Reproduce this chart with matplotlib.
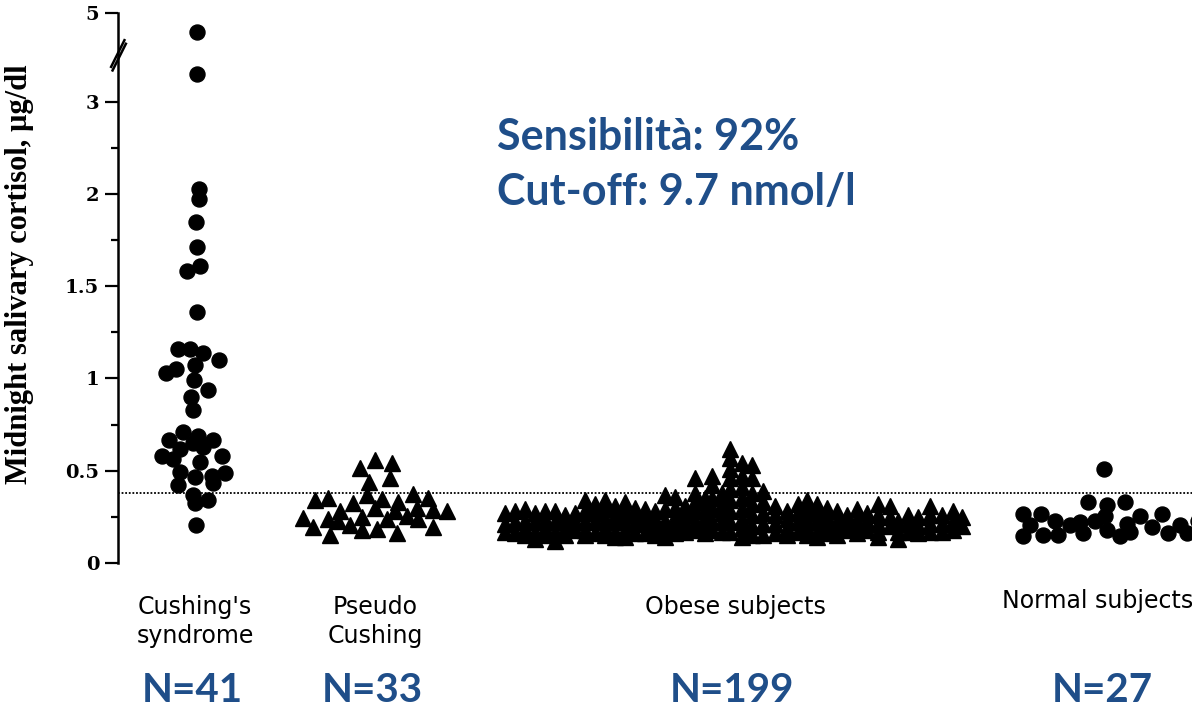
import matplotlib
matplotlib.use("Agg")
import matplotlib.pyplot as plt
import matplotlib.transforms as mtransforms
import numpy as np
from matplotlib import font_manager
from matplotlib.path import Path
from matplotlib.ticker import FixedLocator, NullFormatter


def pick_font(names):
    """Return the first installed family from names"""
    for name in names:
        try:
            font_manager.findfont(name, fallback_to_default=False)
            return name
        except ValueError:
            pass
    return "DejaVu Sans"


# Groups along the x axis
group_labels = ["Cushing's\nsyndrome", "Pseudo\nCushing", "Obese subjects", "Normal subjects"]
group_counts = ["N=41", "N=33", "N=199", "N=27"]
group_pos = [0.77, 2.57, 6.17, 9.87]

# Midnight salivary cortisol (ug/dl) and horizontal scatter of each point
cushing_y = [4.58, 3.63, 2.05, 1.97, 1.85, 1.71, 1.61, 1.58, 1.36, 1.16, 1.16, 1.14,
             1.10, 1.03, 1.05, 1.075, 0.99, 0.94, 0.90, 0.83, 0.71, 0.69, 0.665, 0.665,
             0.62, 0.65, 0.63, 0.58, 0.58, 0.565, 0.545, 0.495, 0.49, 0.47, 0.465,
             0.425, 0.434, 0.366, 0.34, 0.323, 0.205]
cushing_dx = [0.02, 0.02, 0.04, 0.04, 0.01, 0.02, 0.05, -0.08, 0.02, -0.17, -0.05, 0.08,
              0.24, -0.29, -0.19, 0.00, -0.01, 0.13, -0.04, -0.02, -0.12, 0.03, -0.26, 0.18,
              -0.15, -0.02, 0.08, -0.33, 0.27, -0.22, 0.05, -0.15, 0.30, 0.17, 0.00,
              -0.17, 0.18, -0.02, 0.13, 0.00, 0.01]

pseudo_y = [0.556, 0.544, 0.514, 0.437, 0.459, 0.34, 0.352, 0.366, 0.348, 0.374, 0.352,
            0.323, 0.332, 0.246, 0.195, 0.238, 0.28, 0.23, 0.204, 0.25, 0.297, 0.179,
            0.182, 0.28, 0.162, 0.255, 0.297, 0.238, 0.289, 0.195, 0.28, 0.153, 0.238]
pseudo_dx = [0.00, 0.17, -0.15, -0.06, 0.15, -0.60, -0.47, -0.08, 0.07, 0.38, 0.53,
             -0.22, 0.23, -0.72, -0.62, -0.47, -0.35, -0.37, -0.25, -0.13, 0.00, -0.13,
             0.02, 0.20, 0.22, 0.32, 0.42, 0.43, 0.58, 0.58, 0.72, -0.45, 0.12]

# obese subjects: one entry per column of the scatter
obese_dx = [-2.30, -2.20, -2.10, -2.00, -1.90, -1.80, -1.70, -1.60, -1.50, -1.40,
            -1.30, -1.20, -1.10, -1.00, -0.90, -0.80, -0.70, -0.60, -0.50, -0.40,
            -0.30, -0.23, -0.13, -0.05, 0.07, 0.17, 0.28, 0.40, 0.52, 0.63,
            0.72, 0.82, 0.92, 1.02, 1.12, 1.22, 1.32, 1.43, 1.55, 1.63,
            1.73, 1.83, 1.95, 2.07, 2.18, 2.27]
obese_cols = [
    [0.27, 0.21, 0.17], [0.28, 0.22, 0.16], [0.29, 0.23, 0.19, 0.15],
    [0.27, 0.22, 0.16, 0.13], [0.28, 0.24, 0.19, 0.15], [0.28, 0.22, 0.17, 0.12],
    [0.26, 0.23, 0.19, 0.15], [0.27, 0.22, 0.18], [0.34, 0.28, 0.23, 0.18, 0.15],
    [0.32, 0.27, 0.22, 0.16], [0.34, 0.29, 0.24, 0.19, 0.15], [0.31, 0.26, 0.22, 0.17, 0.14],
    [0.33, 0.28, 0.23, 0.18, 0.14], [0.30, 0.26, 0.21, 0.16], [0.29, 0.25, 0.21, 0.16],
    [0.28, 0.24, 0.19, 0.15], [0.37, 0.29, 0.23, 0.18, 0.14], [0.36, 0.30, 0.25, 0.20, 0.16],
    [0.31, 0.26, 0.21, 0.17], [0.46, 0.38, 0.33, 0.28, 0.23, 0.18],
    [0.35, 0.30, 0.25, 0.20, 0.16], [0.47, 0.42, 0.35, 0.29, 0.23, 0.18],
    [0.38, 0.32, 0.27, 0.22, 0.17], [0.62, 0.57, 0.51, 0.46, 0.40, 0.34, 0.28, 0.22, 0.17],
    [0.54, 0.47, 0.41, 0.35, 0.29, 0.24, 0.19, 0.14], [0.53, 0.46, 0.38, 0.32, 0.26, 0.20, 0.15],
    [0.39, 0.33, 0.27, 0.21, 0.15], [0.31, 0.26, 0.21, 0.16], [0.28, 0.24, 0.19, 0.15],
    [0.32, 0.27, 0.22, 0.17], [0.34, 0.29, 0.24, 0.19, 0.15], [0.32, 0.27, 0.22, 0.17, 0.14],
    [0.30, 0.25, 0.20, 0.16], [0.28, 0.23, 0.19, 0.15], [0.26, 0.22, 0.18],
    [0.29, 0.24, 0.20, 0.16], [0.27, 0.22, 0.18], [0.32, 0.26, 0.21, 0.17, 0.14],
    [0.31, 0.25, 0.20], [0.23, 0.17, 0.13], [0.26, 0.21, 0.17], [0.25, 0.20, 0.16],
    [0.31, 0.26, 0.21, 0.17], [0.26, 0.21, 0.17], [0.28, 0.23, 0.18], [0.25, 0.20],
]

normal_y = [0.51, 0.328, 0.315, 0.328, 0.267, 0.267, 0.23, 0.144, 0.204, 0.153, 0.153,
            0.204, 0.22, 0.162, 0.23, 0.255, 0.179, 0.144, 0.213, 0.255, 0.195, 0.264,
            0.162, 0.204, 0.162, 0.17, 0.23]
normal_dx = [-0.01, -0.17, 0.02, 0.20, -0.82, -0.64, -0.50, -0.82, -0.75, -0.62, -0.47,
             -0.35, -0.25, -0.22, -0.10, 0.00, 0.02, 0.15, 0.22, 0.35, 0.47, 0.57,
             0.63, 0.75, 0.82, 0.25, 0.93]

cutoff = 0.38
y_ticks = [0, 0.5, 1, 1.5, 2, 3, 5]
y_minor = [0.25, 0.75, 1.25, 1.75, 2.5]
y_break = 4.1

blue = "#1f4e89"
serif = pick_font(["Liberation Serif", "DejaVu Serif"])
sans_blue = pick_font(["Lato", "Open Sans", "DejaVu Sans"])


def forward(y):
    # linear up to 2, half scale 2-3, compressed above the break
    y = np.asarray(y, dtype=float)
    return np.where(y <= 2, y, np.where(y <= 3, 2 + (y - 2) * 0.5, 2.5 + (y - 3) * 0.24))


def inverse(t):
    t = np.asarray(t, dtype=float)
    return np.where(t <= 2, t, np.where(t <= 2.5, 2 + (t - 2) * 2, 3 + (t - 2.5) / 0.24))


fig = plt.figure(figsize=(11.92, 7.09), dpi=100)
ax = fig.add_axes([118 / 1192, 146 / 709, 1 - 118 / 1192, 550 / 709])
ax.set_yscale("function", functions=(forward, inverse))
ax.set_ylim(0, 5)
ax.set_xlim(0, 10.74)

marker_kw = dict(color="black", linestyle="none", clip_on=False)
ax.plot(group_pos[0] + np.array(cushing_dx), cushing_y, marker="o", ms=10.8, **marker_kw)
ax.plot(group_pos[1] + np.array(pseudo_dx), pseudo_y, marker="^", ms=11, **marker_kw)
obese_x = [group_pos[2] + dx for dx, col in zip(obese_dx, obese_cols) for _ in col]
obese_y = [v for col in obese_cols for v in col]
ax.plot(obese_x, obese_y, marker="^", ms=11, **marker_kw)
ax.plot(group_pos[3] + np.array(normal_dx), normal_y, marker="o", ms=10.8,
        color="black", linestyle="none")

# cut-off line
ax.axhline(cutoff, xmin=0, xmax=1, color="black", lw=1.3, linestyle=(0, (1, 1)))

# axis styling
for side in ["top", "right", "bottom"]:
    ax.spines[side].set_visible(False)
ax.spines["left"].set_linewidth(1.8)
ax.spines["left"].set_bounds(0, 5)
ax.set_xticks([])
ax.yaxis.set_major_locator(FixedLocator(y_ticks))
ax.yaxis.set_minor_locator(FixedLocator(y_minor))
ax.yaxis.set_minor_formatter(NullFormatter())
ax.set_yticklabels([f"{v:g}" for v in y_ticks])
ax.tick_params(axis="y", which="major", length=9.5, width=1.6, pad=4,
               labelsize=14, direction="out")
ax.tick_params(axis="y", which="minor", length=5, width=1.6, direction="out")
for lab in ax.get_yticklabels():
    lab.set_fontfamily("DejaVu Serif")
    lab.set_fontweight("bold")

ax.set_ylabel("Midnight salivary cortisol, \u00b5g/dl", fontfamily=serif,
              fontweight="bold", fontsize=22)
ax.yaxis.set_label_coords(-0.078, 0.525)

# axis break marks
brk = Path([(-0.55, -1.0), (0.45, 1.0), (-0.45, -1.25), (0.55, 0.75)],
           [Path.MOVETO, Path.LINETO, Path.MOVETO, Path.LINETO])
ax.plot([0], [y_break], marker=brk, ms=26, mew=1.8, mfc="none", mec="black",
        clip_on=False, transform=ax.get_yaxis_transform())

# group labels under the axis
label_x = [0.77, 2.57, 6.17, 9.8]
label_tops = [-0.058, -0.058, -0.058, -0.047]
for x, lab, yt in zip(label_x, group_labels, label_tops):
    ax.text(x, yt, lab, transform=ax.get_xaxis_transform(), ha="center", va="top",
            fontsize=17, fontfamily="DejaVu Sans", linespacing=1.25)

count_tf = mtransforms.blended_transform_factory(ax.transData, fig.transFigure)
for x, n in zip(group_pos, group_counts):
    ax.text(x - 0.03, 7 / 709, n, transform=count_tf, ha="center", va="baseline",
            fontsize=29, fontweight="bold", fontfamily=sans_blue, color=blue,
            clip_on=False)

fig.text(497 / 1192, (709 - 150) / 709, "Sensibilit\u00e0: 92%", fontsize=31,
         fontweight="bold", fontfamily=sans_blue, color=blue, va="baseline")
fig.text(497 / 1192, (709 - 205) / 709, "Cut-off: 9.7 nmol/l", fontsize=31,
         fontweight="bold", fontfamily=sans_blue, color=blue, va="baseline")

fig.savefig("out.png", dpi=100)
